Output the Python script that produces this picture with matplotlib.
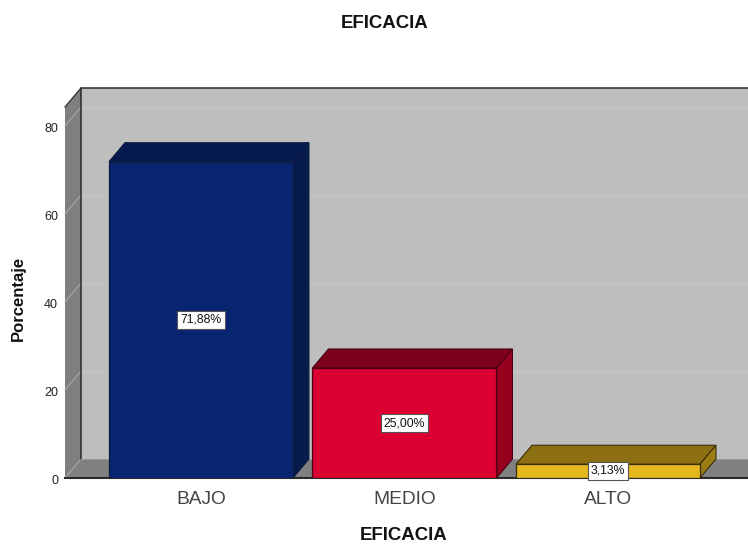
import matplotlib
matplotlib.use("Agg")
import matplotlib.pyplot as plt
from matplotlib.patches import Polygon
from matplotlib.transforms import ScaledTranslation

plt.rcParams['font.family'] = ['Liberation Sans', 'DejaVu Sans']

categories = ["BAJO", "MEDIO", "ALTO"]
values = [71.88, 25.00, 3.13]
labels = ["71,88%", "25,00%", "3,13%"]
front_colors = ["#082570", "#DC0032", "#E5B81F"]
side_colors = ["#061A4C", "#96001F", "#9C7D14"]
top_colors = ["#05194F", "#7D001C", "#8C7012"]
edge_colors = ["#0A1A40", "#4A0014", "#3A2E08"]
yticks = [0, 20, 40, 60, 80]

W, H = 748, 544
L, R, T, B = 65, 748, 107, 478
fig = plt.figure(figsize=(W / 100, H / 100), dpi=100, facecolor="white")
ax = fig.add_axes([L / W, (H - B) / H, (R - L) / W, (B - T) / H])
ax.set_xlim(-0.668, 2.688)
ax.set_ylim(0, (B - T) / 4.4)
ax.patch.set_visible(False)
for s in ax.spines.values():
    s.set_visible(False)

x0, x1 = ax.get_xlim()
y0, y1 = ax.get_ylim()
dx = 16 / 203.5
dy = 19 / 4.4
barw = 0.904
edge = "#2A2A2A"


def poly(points, fc, z=1, ec="none", lw=0.8):
    ax.add_patch(Polygon(points, closed=True, facecolor=fc, edgecolor=ec,
                         linewidth=lw, zorder=z, clip_on=False))


# back wall, side wall, floor
poly([(x0 + dx, dy), (x1 + 0.05, dy), (x1 + 0.05, y1 + dy), (x0 + dx, y1 + dy)], "#BEBEBE", 1)
poly([(x0, 0), (x0 + dx, dy), (x0 + dx, y1 + dy), (x0, y1)], "#7F7F7F", 2)
poly([(x0, 0), (x0 + dx, dy), (x1 + 0.05, dy), (x1 + 0.05, 0)], "#808080", 2)

# gridlines on the back wall and side wall
for t in yticks[1:]:
    ax.plot([x0 + dx, x1], [t + dy, t + dy], color="#C6C6C6", lw=0.9, zorder=2, clip_on=False)
for t in yticks:
    ax.plot([x0, x0 + dx], [t, t + dy], color="#A6A6A6", lw=0.8, zorder=3, clip_on=False)

# frame lines of the box
ax.plot([x0, x1], [0, 0], color=edge, lw=1.5, zorder=3, clip_on=False)
ax.plot([x0 + dx, x0 + dx, x1 + 0.05], [dy, y1 + dy, y1 + dy], color=edge, lw=1.1, zorder=3, clip_on=False)
ax.plot([x0, x0 + dx], [y1, y1 + dy], color=edge, lw=0.9, zorder=3, clip_on=False)
ax.plot([x0 + dx, x1 + 0.05], [dy, dy], color="#9A9A9A", lw=0.8, zorder=3, clip_on=False)

# bars
for i, v in enumerate(values):
    a, b = i - barw / 2, i + barw / 2
    poly([(a, v), (a + dx, v + dy), (b + dx, v + dy), (b, v)], top_colors[i], 5, edge_colors[i])
    poly([(b, 0), (b + dx, dy), (b + dx, v + dy), (b, v)], side_colors[i], 5, edge_colors[i])
ax.bar(range(3), values, width=barw, color=front_colors, edgecolor=edge_colors,
       linewidth=0.9, zorder=6)

for i, v in enumerate(values):
    ax.text(i, max(v / 2, 1.65), labels[i], ha="center", va="center", fontsize=8.8,
            color="#111111", zorder=8,
            bbox=dict(boxstyle="square,pad=0.25", fc="white", ec="#555555", lw=0.8))

ax.set_xticks(range(3), categories)
ax.set_yticks(yticks)
ax.tick_params(axis="x", length=0, labelsize=13.8, labelcolor="#444444", pad=9)
ax.tick_params(axis="y", length=0, labelsize=9, labelcolor="#222222", pad=5)
for lab in ax.get_yticklabels():
    lab.set_transform(lab.get_transform() + ScaledTranslation(0, -1.2 / 100, fig.dpi_scale_trans))

fig.text(385 / W, 1 - 23 / H, "EFICACIA", ha="center", va="center", fontsize=13.4,
         fontweight="bold", color="#111111")
fig.text(404 / W, 1 - 535 / H, "EFICACIA", ha="center", va="center", fontsize=13.4,
         fontweight="bold", color="#111111")
fig.text(18 / W, 1 - 298 / H, "Porcentaje", ha="center", va="center", rotation=90,
         fontsize=12, fontweight="bold", color="#111111")

fig.savefig("out.png", dpi=100, facecolor="white")
